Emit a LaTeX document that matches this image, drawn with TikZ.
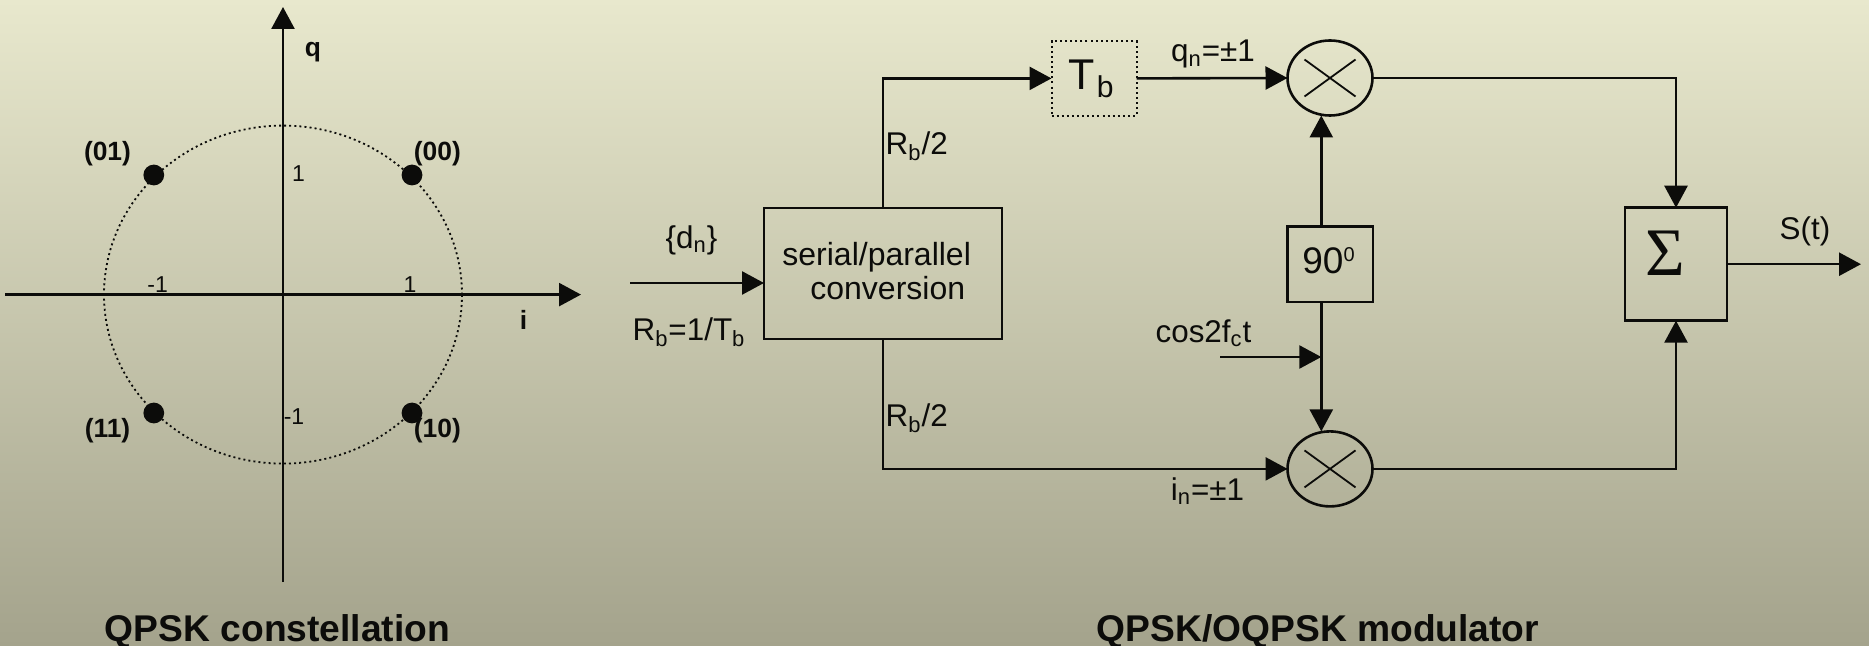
\documentclass[tikz,border=0pt]{standalone}
\usepackage{xcolor}
\usepackage{fontspec}
\usepackage{tikz}
\usetikzlibrary{arrows.meta, shapes.geometric}
\setmainfont{Liberation Sans}
\newfontfamily\sigmafont{Liberation Serif}
\definecolor{bgtop}{RGB}{232, 232, 205}
\definecolor{bgbottom}{RGB}{164, 163, 140}
\definecolor{inkblack}{RGB}{12, 12, 10}
\tikzset{
    wire/.style={draw=inkblack, line width=1.3pt},
    flow/.style={wire, -{Triangle[length=11pt, width=11.5pt]}},
    blockbox/.style={draw=inkblack, line width=1.3pt, inner sep=0pt, outer sep=0pt},
    mixer/.style={ellipse, draw=inkblack, line width=1.3pt, inner sep=0pt, outer sep=0pt, minimum width=42.5pt, minimum height=37.5pt},
    dotpoint/.style={circle, fill=inkblack, inner sep=0pt, outer sep=0pt, minimum size=10.4pt},
    txt/.style={text=inkblack, inner sep=0pt, font=\fontsize{15.7}{17.3}\selectfont},
    ticktxt/.style={text=inkblack, inner sep=0pt, font=\fontsize{11.5}{13}\selectfont},
    pointtxt/.style={text=inkblack, inner sep=0pt, font=\fontsize{13.2}{15}\selectfont\bfseries},
    titletxt/.style={text=inkblack, inner sep=0pt, font=\fontsize{18.6}{21}\selectfont\bfseries}
}

\begin{document}
\begin{tikzpicture}[x=0.5pt, y=-0.5pt]
        \useasboundingbox (0,0) rectangle (1869,646);
        \shade[top color=bgtop, bottom color=bgbottom] (0,0) rectangle (1869,646);

        \coordinate (ileft) at (5,294.6);
        \coordinate (iright) at (581,294.6);
        \coordinate (qtop) at (283,7);
        \coordinate (qbottom) at (283,582);
        \node[ellipse, draw=inkblack, line width=0.9pt, dash pattern=on 1pt off 1.55pt, inner sep=0pt, minimum width=179pt, minimum height=169pt] (ring) at (283,294.6) {};
        \draw[flow] (ileft) -- (iright);
        \draw[flow] (qbottom) -- (qtop);

        \node[dotpoint] (p00) at (412,175) {};
        \node[dotpoint] (p01) at (153.8,175) {};
        \node[dotpoint] (p11) at (153.8,413) {};
        \node[dotpoint] (p10) at (412,413) {};
        \node[pointtxt] (lab00) at (437.4,153.4) {(00)};
        \node[pointtxt] (lab01) at (107.5,153.4) {(01)};
        \node[pointtxt] (lab11) at (107.5,431) {(11)};
        \node[pointtxt] (lab10) at (437.4,431) {(10)};
        \node[pointtxt] (labq) at (313,52.4) {q};
        \node[pointtxt] (labi) at (523.5,319.5) {i};
        \node[ticktxt] (tickqp) at (298.5,174) {1};
        \node[ticktxt] (tickqm) at (294,417) {-1};
        \node[ticktxt] (tickip) at (410,285) {1};
        \node[ticktxt] (tickim) at (157.7,285) {-1};
        \node[titletxt] (conttitle) at (277.5,632) {QPSK constellation};

        \node[blockbox, minimum width=119pt, minimum height=65.5pt] (spbox) at (883,273.5) {};
        \node[txt, font=\fontsize{16}{17.3}\selectfont, align=left, anchor=west] (splab) at (782,271) {serial/parallel\\\hspace*{14pt}conversion};
        \node[blockbox, dash pattern=on 1pt off 1.55pt, line width=1pt, minimum width=42.5pt, minimum height=37.5pt] (tbbox) at (1094,78.4) {};
        \node[txt, font=\fontsize{21.5}{23}\selectfont] (tblab) at (1091.5,79) {T\kern1pt\textsubscript{b}};
        \node[mixer] (mixq) at (1330,78) {};
        \node[mixer] (mixi) at (1330,468.9) {};
        \node[blockbox, minimum width=42.75pt, minimum height=37.6pt] (phbox) at (1330.2,264.3) {};
        \node[txt, font=\fontsize{18.5}{20}\selectfont] (phlab) at (1328.5,261) {90\raisebox{6pt}{\fontsize{10}{10}\selectfont 0}};
        \node[blockbox, minimum width=51pt, minimum height=56.5pt] (sumbox) at (1676,264.2) {};
        \node[text=inkblack, inner sep=0pt, font=\fontsize{34}{36}\sigmafont] (sumlab) at (1665,253.5) {Σ};
        \foreach \m in {mixq, mixi} {
            \draw[line width=0.9pt, draw=inkblack] ([shift={(-25.5,-18.5)}]\m.center) -- ([shift={(25.5,18.5)}]\m.center);
            \draw[line width=0.9pt, draw=inkblack] ([shift={(-25.5,18.5)}]\m.center) -- ([shift={(25.5,-18.5)}]\m.center);
        }

        \coordinate (datain) at (630,283);
        \coordinate (cosin) at (1220.4,357);
        \coordinate (feed) at (1321.3,357);
        \coordinate (sumout) at (1861,264.2);
        \draw[flow] (datain) -- (datain -| spbox.west);
        \draw[flow] (spbox.north) |- (tbbox.west);
        \draw[flow] (spbox.south) |- (mixi.west);
        \draw[flow] (tbbox.east) -- (mixq.west);
        \draw[flow] (phbox.north -| feed) -- (mixq.south -| feed);
        \draw[flow] (phbox.south -| feed) -- (mixi.north -| feed);
        \draw[flow] (cosin) -- (feed);
        \draw[flow] (mixq.east) -| (sumbox.north);
        \draw[flow] (mixi.east) -| (sumbox.south);
        \draw[flow] (sumbox.east) -- (sumout);

        \node[txt] (dlab) at (691.4,240.2) {\{d\textsubscript{n}\}};
        \node[txt] (ratelab) at (689,332.2) {R\textsubscript{b}=1/T\textsubscript{b}};
        \node[txt] (halfup) at (916.7,146.4) {R\textsubscript{b}/2};
        \node[txt] (halfdown) at (916.7,417.9) {R\textsubscript{b}/2};
        \node[txt] (qnlab) at (1213,54.4) {q\textsubscript{n}=±1};
        \node[txt] (inlab) at (1207.5,491.2) {i\textsubscript{n}=±1};
        \node[txt] (coslab) at (1203.5,333.4) {cos2f\textsubscript{c}t};
        \node[txt] (stlab) at (1805,231.8) {S(t)};
        \node[titletxt] (modtitle) at (1318,632) {QPSK/OQPSK modulator};
    \end{tikzpicture}
\end{document}
